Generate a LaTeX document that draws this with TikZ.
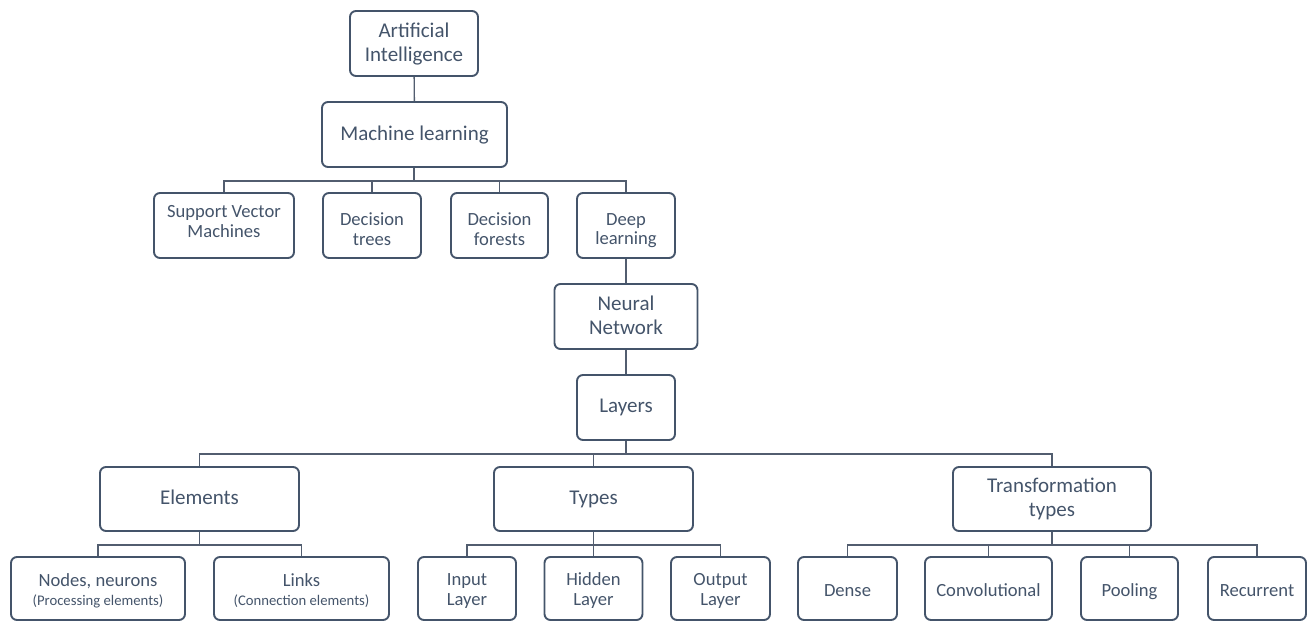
\documentclass[tikz,border=0pt]{standalone}
\usepackage{fontspec}
\setmainfont{Carlito}
\usepackage{xcolor}
\usepackage{tikz}
\usetikzlibrary{positioning,calc}
\definecolor{slate}{HTML}{44546A}
\definecolor{linkgray}{HTML}{525D6F}
\newcommand{\bigtxt}{\fontsize{21}{24.3}\selectfont}
\newcommand{\midtxt}{\fontsize{18.6}{19.5}\selectfont}
\newcommand{\smalltxt}{\fontsize{14.7}{17}\selectfont}
% box text: first baseline sits #1 above the box centre
\newcommand{\lbl}[2]{\raisebox{#1}[0pt][0pt]{\begin{tabular}[t]{@{}c@{}}#2\end{tabular}}}

\begin{document}
\begin{tikzpicture}[x=1pt,y=-1pt,
  box/.style={draw=slate,line width=1.9pt,rounded corners=6pt,text=slate,
    inner sep=0pt,minimum height=65pt},
  big/.style={box,font=\bigtxt},
  mid/.style={box,font=\midtxt},
  link/.style={draw=linkgray,line width=1.4pt}]
  \useasboundingbox (0,0) rectangle (1314,621);
  % top of the tree
  \node[big,minimum width=128pt] (ai) at (414,43.5) {\lbl{6.2pt}{Artificial\\Intelligence}};
  \node[big,minimum width=185pt] (ml) at (414.5,134.5) {\lbl{-5.5pt}{Machine learning}};
  \node[mid,minimum width=140pt] (svm) at (224,225.5) {\lbl{7.8pt}{Support Vector\\Machines}};
  \node[mid,minimum width=98pt] (trees) at (372,225.5) {\lbl{-0.2pt}{Decision\\trees}};
  \node[mid,minimum width=97pt] (forests) at (499.5,225.5) {\lbl{0pt}{Decision\\forests}};
  \node[mid,minimum width=98pt] (deep) at (626,225.5) {\lbl{0.5pt}{Deep\\learning}};
  \node[big,minimum width=143pt] (nn) at (626,316.5) {\lbl{6.5pt}{Neural\\Network}};
  \node[big,minimum width=98pt] (layers) at (626,407.5) {\lbl{-5.2pt}{Layers}};
  % layers
  \node[big,minimum width=199pt,minimum height=64pt] (elements) at (199.5,499) {\lbl{-5pt}{Elements}};
  \node[big,minimum width=199pt,minimum height=64pt] (types) at (593.5,499) {\lbl{-5pt}{Types}};
  \node[big,minimum width=198pt,minimum height=64pt] (transf) at (1052,499) {\lbl{6.7pt}{Transformation\\types}};
  % leaves
  \node[mid,minimum width=174pt,minimum height=63pt] (nodes) at (98,588.5)
    {\lbl{1.8pt}{Nodes, neurons\\[-1.2pt]{\smalltxt(Processing elements)}}};
  \node[mid,minimum width=175pt,minimum height=63pt] (links) at (301.5,588.5)
    {\lbl{1.8pt}{Links\\[-1.2pt]{\smalltxt(Connection elements)}}};
  \node[mid,minimum width=98pt,minimum height=63pt] (input) at (467,588.5) {\lbl{2.8pt}{Input\\Layer}};
  \node[mid,minimum width=98pt,minimum height=63pt] (hidden) at (593.5,588.5) {\lbl{2.8pt}{Hidden\\Layer}};
  \node[mid,minimum width=99pt,minimum height=63pt] (output) at (720.5,588.5) {\lbl{2.8pt}{Output\\Layer}};
  \node[mid,minimum width=99pt,minimum height=63pt] (dense) at (847.5,588.5) {\lbl{-7.5pt}{Dense}};
  \node[mid,minimum width=127pt,minimum height=63pt] (conv) at (988.5,588.5) {\lbl{-8pt}{Convolutional}};
  \node[mid,minimum width=97pt,minimum height=63pt] (pooling) at (1129.5,588.5) {\lbl{-7.5pt}{Pooling}};
  \node[mid,minimum width=98pt,minimum height=63pt] (recurrent) at (1257,588.5) {\lbl{-7.5pt}{Recurrent}};
  % connectors
  \draw[link] (ai) -- (ml);
  \draw[link] (deep) -- (nn);
  \draw[link] (nn) -- (layers);
  \foreach \child in {svm,trees,forests,deep}
    \draw[link] (ml.south -| ai) -- ++(0,13) -| (\child.north);
  \foreach \child in {elements,types,transf}
    \draw[link] (layers.south) -- ++(0,13) -| (\child.north);
  \foreach \child in {nodes,links}
    \draw[link] (elements.south) -- ++(0,13) -| (\child.north);
  \foreach \child in {input,hidden,output}
    \draw[link] (types.south) -- ++(0,13) -| (\child.north);
  \foreach \child in {dense,conv,pooling,recurrent}
    \draw[link] (transf.south) -- ++(0,13) -| (\child.north);
\end{tikzpicture}
\end{document}
